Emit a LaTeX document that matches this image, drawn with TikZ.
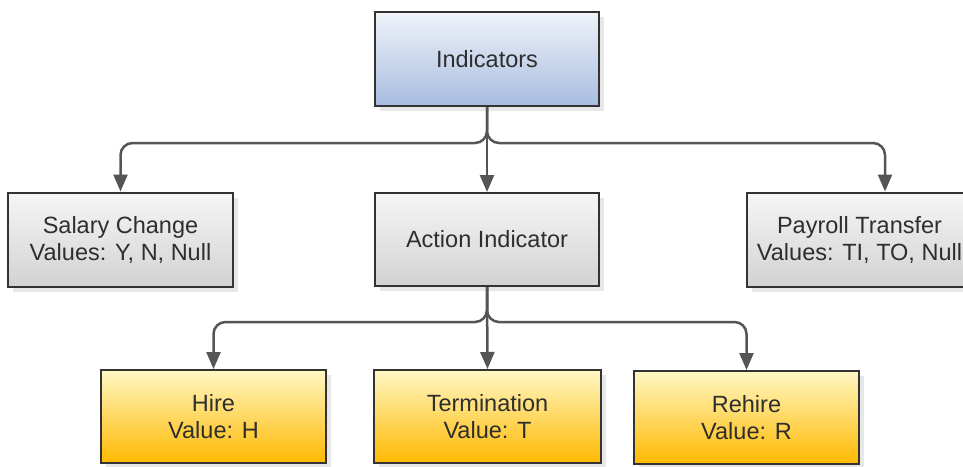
\documentclass[tikz,border=0pt]{standalone}
\usepackage{fontspec}
\setmainfont{Liberation Sans}
\usetikzlibrary{arrows.meta,shadows,calc}

\definecolor{edge}{HTML}{333333}
\definecolor{wire}{HTML}{555555}
\definecolor{ink}{HTML}{2E2E2E}
\definecolor{blueTop}{HTML}{F0F3FA}
\definecolor{blueBot}{HTML}{A7BCDF}
\definecolor{grayTop}{HTML}{F6F6F6}
\definecolor{grayBot}{HTML}{D2D2D2}
\definecolor{goldTop}{HTML}{FFF7C4}
\definecolor{goldBot}{HTML}{FFB900}

\tikzset{
  box/.style={draw=edge, line width=2pt, minimum width=225pt, minimum height=94pt,
    align=center, text=ink, inner sep=0pt,
    font=\fontsize{23.5}{27}\selectfont,
    drop shadow={shadow xshift=5pt, shadow yshift=-5pt, fill=black!18, draw=none}},
  topbox/.style={box, top color=blueTop, bottom color=blueBot},
  midbox/.style={box, top color=grayTop, bottom color=grayBot},
  leafbox/.style={box, top color=goldTop, bottom color=goldBot},
  conn/.style={draw=wire, line width=2.5pt, rounded corners=12pt,
    -{Triangle[width=14pt,length=17pt]}}
}

\begin{document}
\begin{tikzpicture}[x=1pt, y=-1pt]
  \clip (0,0) rectangle (963,466);
  \useasboundingbox (0,0) rectangle (963,466);
  \fill[white] (0,0) rectangle (963,466);

  % top level
  \node[topbox, minimum width=224pt] (ind) at (487,59) {Indicators};

  % second level
  \node[midbox] (sal) at (120.5,239.5) {Salary Change\\Values: Y, N, Null};
  \node[midbox, minimum width=224pt, minimum height=93pt] (act) at (487,239.5) {Action Indicator};
  \node[midbox] (pay) at (859.5,239.5) {Payroll Transfer\\Values: TI, TO, Null};

  % third level
  \node[leafbox, minimum height=93pt] (hire) at (213.5,416.5) {Hire\\Value: H};
  \node[leafbox, minimum width=227pt, minimum height=93pt] (term) at (487.5,416.5) {Termination\\Value: T};
  \node[leafbox, minimum height=93pt] (rehire) at (746.5,417.5) {Rehire\\Value: R};

  % bus lines
  \coordinate (busA) at (487,143);
  \coordinate (busB) at (487,322);
  \coordinate (payIn) at ($(pay.north)+(25.5,0)$);

  % connectors from Indicators
  \draw[conn] (ind.south) -- (ind.south |- busA) -| (sal.north);
  \draw[conn] (ind.south) -- (act.north);
  \draw[conn] (ind.south) -- (ind.south |- busA) -| (payIn);

  % connectors from Action Indicator
  \draw[conn] (act.south) -- (act.south |- busB) -| (hire.north);
  \draw[conn] (act.south) -- (term.north);
  \draw[conn] (act.south) -- (act.south |- busB) -| (rehire.north);
\end{tikzpicture}
\end{document}
